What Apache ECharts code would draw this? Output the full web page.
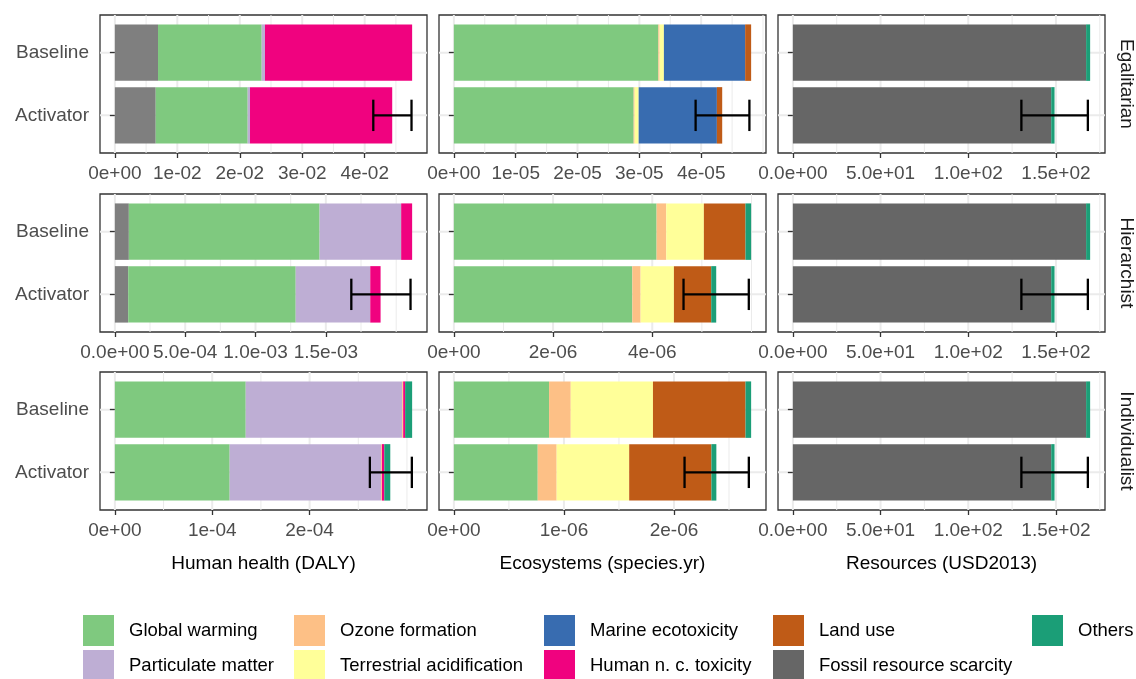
<!DOCTYPE html>
<html>
<head>
<meta charset="utf-8">
<script src="https://cdn.jsdelivr.net/npm/echarts@6/dist/echarts.min.js"></script>
<style>html,body{margin:0;padding:0;background:#fff}#c{width:1136px;height:679px}</style>
</head>
<body>
<div id="c"></div>
<script>
// ---------- DATA ----------
const categories = ['Activator', 'Baseline'];
const perspectives = ['Egalitarian', 'Hierarchist', 'Individualist'];
const endpoints = ['Human health (DALY)', 'Ecosystems (species.yr)', 'Resources (USD2013)'];
const impacts = ['NA', 'Global warming', 'Particulate matter', 'Ozone formation', 'Terrestrial acidification',
  'Marine ecotoxicity', 'Human n. c. toxicity', 'Land use', 'Fossil resource scarcity', 'Others'];
const impactColors = ['#7F7F7F', '#7FC97F', '#BEAED4', '#FDC086', '#FFFF99', '#386CB0', '#F0027F', '#BF5B17', '#666666', '#1B9E77'];

// each row = one impact (order of `impacts`): [Activator, Baseline]
const egalitarianHealth = [[0.00654, 0.00691], [0.01473, 0.0166], [0.00037, 0.00053], [0, 0], [0, 0], [0, 0], [0.02277, 0.02356], [0, 0], [0, 0], [0, 0]];
const egalitarianEcosystems = [[0, 0], [2.908e-5, 3.307e-5], [0, 0], [0.016e-5, 0.02e-5], [0.065e-5, 0.07e-5], [1.265e-5, 1.314e-5], [0, 0], [0.086e-5, 0.097e-5], [0, 0], [0, 0]];
const egalitarianResources = [[0, 0], [0, 0], [0, 0], [0, 0], [0, 0], [0, 0], [0, 0], [0, 0], [147.3, 167.2], [1.9, 2.3]];
const hierarchistHealth = [[0.947e-4, 0.994e-4], [11.91e-4, 13.56e-4], [5.30e-4, 5.80e-4], [0, 0], [0, 0], [0, 0], [0.734e-4, 0.78e-4], [0, 0], [0, 0], [0, 0]];
const hierarchistEcosystems = [[0, 0], [3.597e-6, 4.087e-6], [0, 0], [0.168e-6, 0.195e-6], [0.671e-6, 0.758e-6], [0, 0], [0, 0], [0.752e-6, 0.839e-6], [0, 0], [0.101e-6, 0.114e-6]];
const hierarchistResources = [[0, 0], [0, 0], [0, 0], [0, 0], [0, 0], [0, 0], [0, 0], [0, 0], [147.3, 167.2], [1.9, 2.3]];
const individualistHealth = [[0, 0], [1.179e-4, 1.344e-4], [1.556e-4, 1.607e-4], [0.008e-4, 0.01e-4], [0, 0], [0, 0], [0.024e-4, 0.02e-4], [0, 0], [0, 0], [0.0615e-4, 0.072e-4]];
const individualistEcosystems = [[0, 0], [0.762e-6, 0.865e-6], [0, 0], [0.172e-6, 0.197e-6], [0.659e-6, 0.747e-6], [0, 0], [0, 0], [0.747e-6, 0.841e-6], [0, 0], [0.045e-6, 0.051e-6]];
const individualistResources = [[0, 0], [0, 0], [0, 0], [0, 0], [0, 0], [0, 0], [0, 0], [0, 0], [147.3, 167.2], [1.9, 2.3]];

// error bars on Activator total: [low, high]
const egalitarianHealthErr = [0.04138, 0.0475];
const egalitarianEcosystemsErr = [3.91e-5, 4.78e-5];
const egalitarianResourcesErr = [130.3, 168.2];
const hierarchistHealthErr = [16.81e-4, 21.02e-4];
const hierarchistEcosystemsErr = [4.63e-6, 5.946e-6];
const hierarchistResourcesErr = [130.3, 168.2];
const individualistHealthErr = [2.619e-4, 3.05e-4];
const individualistEcosystemsErr = [2.096e-6, 2.68e-6];
const individualistResourcesErr = [130.3, 168.2];

// tick values / labels / minor grid values
const egalHealthTicks = [0, 0.01, 0.02, 0.03, 0.04];
const egalHealthLabels = ['0e+00', '1e-02', '2e-02', '3e-02', '4e-02'];
const egalHealthMinor = [0.005, 0.015, 0.025, 0.035, 0.045, 0.05];
const egalEcoTicks = [0, 1e-5, 2e-5, 3e-5, 4e-5];
const egalEcoLabels = ['0e+00', '1e-05', '2e-05', '3e-05', '4e-05'];
const egalEcoMinor = [0.5e-5, 1.5e-5, 2.5e-5, 3.5e-5, 4.5e-5, 5e-5];
const resTicks = [0, 50, 100, 150];
const resLabels = ['0.0e+00', '5.0e+01', '1.0e+02', '1.5e+02'];
const resMinor = [25, 75, 125, 175];
const hierHealthTicks = [0, 5e-4, 1e-3, 1.5e-3];
const hierHealthLabels = ['0.0e+00', '5.0e-04', '1.0e-03', '1.5e-03'];
const hierHealthMinor = [2.5e-4, 7.5e-4, 1.25e-3, 1.75e-3, 2e-3];
const hierEcoTicks = [0, 2e-6, 4e-6];
const hierEcoLabels = ['0e+00', '2e-06', '4e-06'];
const hierEcoMinor = [1e-6, 3e-6, 5e-6, 6e-6];
const indivHealthTicks = [0, 1e-4, 2e-4];
const indivHealthLabels = ['0e+00', '1e-04', '2e-04'];
const indivHealthMinor = [0.5e-4, 1.5e-4, 2.5e-4, 3e-4];
const indivEcoTicks = [0, 1e-6, 2e-6];
const indivEcoLabels = ['0e+00', '1e-06', '2e-06'];
const indivEcoMinor = [0.5e-6, 1.5e-6, 2.5e-6, 3e-6];

// ---------- ASSEMBLY ----------
const panels = [
  [egalitarianHealth, egalitarianHealthErr, egalHealthTicks, egalHealthLabels, egalHealthMinor],
  [egalitarianEcosystems, egalitarianEcosystemsErr, egalEcoTicks, egalEcoLabels, egalEcoMinor],
  [egalitarianResources, egalitarianResourcesErr, resTicks, resLabels, resMinor],
  [hierarchistHealth, hierarchistHealthErr, hierHealthTicks, hierHealthLabels, hierHealthMinor],
  [hierarchistEcosystems, hierarchistEcosystemsErr, hierEcoTicks, hierEcoLabels, hierEcoMinor],
  [hierarchistResources, hierarchistResourcesErr, resTicks, resLabels, resMinor],
  [individualistHealth, individualistHealthErr, indivHealthTicks, indivHealthLabels, indivHealthMinor],
  [individualistEcosystems, individualistEcosystemsErr, indivEcoTicks, indivEcoLabels, indivEcoMinor],
  [individualistResources, individualistResourcesErr, resTicks, resLabels, resMinor]
];

const FONT = 'Liberation Sans, Arial, Helvetica, sans-serif';
const gridLefts = [100, 439, 778];
const gridTops = [15, 194, 372];
const gridW = 327, gridH = 138;
const legendCols = [83, 294, 544, 773, 1032];
const legendRows = [615, 650];

const grids = [], xAxes = [], yAxes = [], series = [];

panels.forEach((p, g) => {
  const [vals, err, ticks, labels, minor] = p;
  const row = Math.floor(g / 3), col = g % 3;
  const totals = [0, 1].map(i => vals.reduce((s, v) => s + v[i], 0));
  const M = Math.max(totals[0], totals[1], err[1]);
  const xmin = -0.05 * M, xmax = 1.05 * M;

  grids.push({ left: gridLefts[col], top: gridTops[row], width: gridW, height: gridH,
    show: true, borderColor: '#333333', borderWidth: 1.3, backgroundColor: '#fff', containLabel: false });

  xAxes.push({
    type: 'value', gridIndex: g, min: xmin, max: xmax,
    axisLine: { show: false },
    axisTick: { show: true, customValues: ticks, length: 5, lineStyle: { color: '#333333', width: 1.3 } },
    axisLabel: { customValues: ticks, fontSize: 19, color: '#4D4D4D', margin: 11, fontFamily: FONT,
      formatter: v => { let bi = 0; ticks.forEach((t, i) => { if (Math.abs(t - v) < Math.abs(ticks[bi] - v)) bi = i; }); return labels[bi]; } },
    splitLine: { show: false },
    name: row === 2 ? endpoints[col] : '', nameLocation: 'middle', nameGap: 44,
    nameTextStyle: { fontSize: 19, color: '#000', fontFamily: FONT }
  });

  yAxes.push({
    type: 'value', gridIndex: g, min: 0.4, max: 2.6,
    axisLine: { show: false },
    axisTick: { show: true, customValues: [1, 2], length: 5, lineStyle: { color: '#333333', width: 1.3 } },
    axisLabel: { show: col === 0, customValues: [1, 2], fontSize: 19, color: '#4D4D4D', margin: 11, fontFamily: FONT,
      formatter: v => categories[Math.round(v) - 1] },
    splitLine: { show: false }
  });

  // grid lines (major / minor) through the axis scales
  const gl = [];
  ticks.forEach(v => gl.push([v, 0, 0]));
  minor.filter(v => v < xmax).forEach(v => gl.push([v, 0, 1]));
  [1, 2].forEach(v => gl.push([v, 1, 0]));
  series.push({
    type: 'custom', xAxisIndex: g, yAxisIndex: g, z: 0, silent: true, data: gl,
    encode: { x: 0, y: 1 },
    renderItem: (params, api) => {
      const v = api.value(0), o = api.value(1), k = api.value(2);
      const cs = params.coordSys;
      if (o === 0) {
        const x = api.coord([v, 1])[0];
        return { type: 'line', shape: { x1: x, y1: cs.y, x2: x, y2: cs.y + cs.height },
          style: { stroke: '#EBEBEB', lineWidth: k === 0 ? 2 : 1 } };
      }
      const y = api.coord([0, v])[1];
      return { type: 'line', shape: { x1: cs.x, y1: y, x2: cs.x + cs.width, y2: y },
        style: { stroke: '#EBEBEB', lineWidth: 2 } };
    }
  });

  // stacked bars
  const cum = [0, 0];
  impacts.forEach((name, k) => {
    const data = [0, 1].map(i => {
      const s = cum[i]; cum[i] += vals[k][i];
      return [s, cum[i], i + 1];
    });
    series.push({
      type: 'custom', name: name, xAxisIndex: g, yAxisIndex: g, z: 2, silent: true,
      itemStyle: { color: impactColors[k] },
      encode: { x: [0, 1], y: 2 },
      data: data,
      renderItem: (params, api) => {
        const s = api.value(0), e = api.value(1), y = api.value(2);
        if (!(e - s > 0)) return null;
        const p0 = api.coord([s, y + 0.45]);
        const p1 = api.coord([e, y - 0.45]);
        return { type: 'rect', shape: { x: p0[0], y: p0[1], width: p1[0] - p0[0], height: p1[1] - p0[1] },
          style: { fill: api.visual('color') } };
      }
    });
  });

  // error bar on Activator
  series.push({
    type: 'custom', xAxisIndex: g, yAxisIndex: g, z: 5, silent: true,
    data: [[err[0], err[1], 1]],
    encode: { x: [0, 1], y: 2 },
    renderItem: (params, api) => {
      const lo = api.value(0), hi = api.value(1), y = api.value(2);
      const pL = api.coord([lo, y]), pH = api.coord([hi, y]);
      const h = Math.abs(api.coord([lo, y + 0.25])[1] - pL[1]);
      const st = { stroke: '#000', lineWidth: 2.3 };
      return { type: 'group', children: [
        { type: 'line', shape: { x1: pL[0], y1: pL[1], x2: pH[0], y2: pH[1] }, style: st },
        { type: 'line', shape: { x1: pL[0], y1: pL[1] - h, x2: pL[0], y2: pL[1] + h }, style: st },
        { type: 'line', shape: { x1: pH[0], y1: pH[1] - h, x2: pH[0], y2: pH[1] + h }, style: st }
      ] };
    }
  });
});

const legends = impacts.slice(1).map((name, i) => ({
  data: [name], left: legendCols[Math.floor(i / 2)], top: legendRows[i % 2],
  padding: 0, itemWidth: 31, itemHeight: 31, icon: 'rect', selectedMode: false,
  textStyle: { fontSize: 18.5, color: '#000', fontFamily: FONT, padding: [0, 0, 0, 10] }
}));

const strips = perspectives.map((t, r) => ({
  type: 'text', x: 1126, y: gridTops[r] + gridH / 2, rotation: -Math.PI / 2,
  style: { text: t, fontSize: 19, fontFamily: FONT, fill: '#1A1A1A', align: 'center', verticalAlign: 'middle' }
}));

const chart = echarts.init(document.getElementById('c'), null, { renderer: 'canvas' });
chart.setOption({
  animation: false,
  backgroundColor: '#fff',
  textStyle: { fontFamily: FONT },
  grid: grids, xAxis: xAxes, yAxis: yAxes,
  legend: legends,
  graphic: strips,
  series: series
});
</script>
</body>
</html>
